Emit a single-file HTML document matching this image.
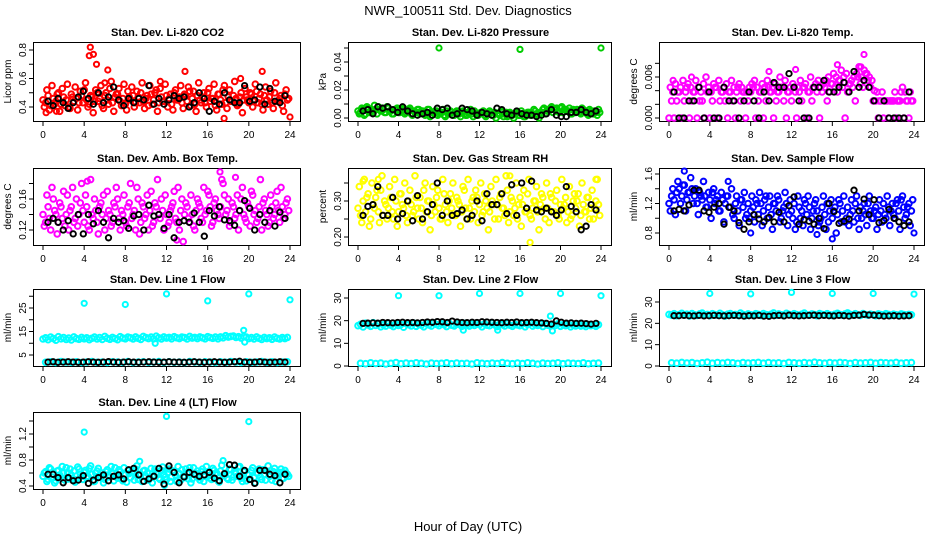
<!DOCTYPE html>
<html><head><meta charset="utf-8"><title>NWR_100511 Std. Dev. Diagnostics</title>
<style>
html,body{margin:0;padding:0;background:#fff;}
svg{display:block;font-family:"Liberation Sans",Arial,sans-serif;}
</style></head>
<body>
<svg id="chart" width="936" height="540" viewBox="0 0 936 540" xmlns="http://www.w3.org/2000/svg">
<rect x="0" y="0" width="936" height="540" fill="#fff"/>
<text x="468" y="15" text-anchor="middle" font-size="13">NWR_100511  Std. Dev. Diagnostics</text>
<text x="468" y="531" text-anchor="middle" font-size="13">Hour of Day (UTC)</text>
</svg>
<script>
// Shared x tick labels (hours)
var hourTicks = [0,4,8,12,16,20,24];

// ---- Li-820 CO2 ----
var co2A = [.45,.43,.48,.41,.46,.44,.50,.42,.47,.45,.40,.49,.44,.46,.43,.48,.52,.45,.42,.47,.44,.50,.46,.41,.48,.45,.53,.43,.47,.49,.44,.46,.42,.51,.45,.48,.43,.47,.50,.44,.46,.41,.49,.45,.52,.43,.47,.44,.48,.46,.42,.50,.45,.47,.43,.49,.44,.51,.46,.42,.48,.45,.47,.43,.50,.44,.46,.41,.49,.45,.52,.43,.47,.44,.48,.46,.42,.50,.45,.47,.43,.49,.44,.51,.46,.42,.48,.45,.47,.43,.50,.44,.46,.41,.49,.45];
var co2B = [.40,.52,.38,.55,.42,.49,.37,.53,.41,.56,.39,.47,.54,.38,.51,.43,.57,.40,.48,.36,.52,.44,.55,.39,.50,.42,.58,.37,.49,.53,.41,.56,.38,.47,.54,.40,.51,.43,.57,.39,.48,.55,.42,.50,.37,.53,.44,.56,.40,.49,.38,.52,.45,.55,.39,.48,.54,.41,.51,.37,.57,.43,.50,.40,.53,.46,.56,.38,.49,.42,.55,.39,.52,.44,.58,.41,.47,.36,.53,.45,.50,.40,.56,.43,.49,.38,.54,.42,.51,.39,.57,.44,.48,.37,.52,.46];
var co2Out = [[4.6,.82],[4.5,.76],[4.9,.77],[5.2,.70],[6.3,.66],[13.8,.65],[21.3,.65],[19.2,.60],[17.6,.32],[24,.33],[11.4,.58],[6.0,.57],[0.3,.36],[1.3,.37]];
var co2Blk = [.44,.41,.46,.43,.39,.43,.47,.51,.46,.42,.50,.43,.47,.54,.45,.41,.46,.43,.46,.45,.55,.42,.46,.42,.45,.48,.46,.47,.40,.43,.50,.46,.37,.44,.42,.50,.45,.43,.43,.55,.44,.45,.54,.42,.53,.44,.43,.48];
var co2Ticks = [.4,.5,.6,.7,.8];
var co2Labels = ["0.4","","0.6","","0.8"];

// ---- Li-820 Pressure ----
var prsA = [.005,.004,.006,.003,.007,.005,.004,.006,.008,.005,.006,.004,.007,.005,.003,.006,.004,.005,.007,.004,.006,.003,.005,.004,.006,.005,.003,.004,.006,.002,.004,.005,.003,.004,.002,.005,.003,.004,.002,.005,.003,.004,.003,.002,.004,.003,.005,.002,.003,.004,.002,.003,.005,.002,.004,.003,.002,.004,.003,.001,.004,.002,.003,.004,.002,.003,.001,.004,.002,.003,.005,.002,.004,.006,.003,.005,.007,.004,.006,.005,.007,.004,.006,.005,.003,.006,.004,.005,.003,.006,.004,.002,.005,.003,.004,.006];
var prsB = [.003,.007,.002,.008,.004,.006,.009,.003,.006,.007,.004,.008,.005,.003,.006,.007,.004,.006,.003,.005,.007,.002,.004,.006,.003,.005,.002,.006,.001,.004,.005,.002,.004,.006,.001,.003,.005,.002,.004,.003,.001,.005,.002,.004,.006,.001,.003,.002,.004,.005,.001,.003,.004,.002,.000,.003,.005,.001,.004,.002,.003,.000,.004,.002,.005,.001,.003,.004,.002,.006,.003,.000,.004,.007,.005,.006,.008,.006,.007,.004,.008,.006,.005,.007,.003,.005,.006,.004,.007,.005,.003,.006,.004,.005,.002,.004];
var prsOut = [[8,.050],[16,.049],[24,.050]];
var prsBlk = [.005,.006,.003,.008,.007,.008,.006,.004,.008,.005,.003,.002,.003,.004,.002,.007,.006,.007,.002,.003,.007,.006,.005,.002,.004,.003,.002,.007,.006,.003,.002,.005,.003,.002,.002,.001,.002,.003,.006,.002,.001,.001,.004,.004,.006,.004,.003,.005];
var prsTicks = [0,.01,.02,.03,.04,.05];
var prsLabels = ["0.00","","0.02","","0.04",""];

// ---- Li-820 Temp ----
var tmpA = [0,.0025,0,.0025,.0038,0,.0025,.0045,0,.0025,.0038,0,.0025,.0025,0,.0038,0,.0025,.0045,0,.0025,.0038,.0025,0,.0038,.0025,0,.0045,.0025,.0038,0,.0025,.0038,.0045,0,.0025,.0038,0,.0025,.0045,.0038,0,.0025,.0038,.0045,.0025,0,.0038,.0025,.0045,0,.0038,.0025,.0045,0,.0038,.0025,.0045,.0038,0,.0038,.0045,.0025,.0038,.005,.0045,.0038,.0055,.0045,0,.0038,.005,.0045,.0025,.006,.005,.0045,.0065,.0055,.0045,.0025,.0025,0,.0025,0,.0025,0,.0025,.0025,0,.0025,.0038,0,.0025,0,.0025];
var tmpB = [.0045,.0038,.005,.0038,.0045,.0055,.0038,.005,.0045,.0038,.0055,.0045,.0038,.005,.006,.0045,.0038,.005,.0045,.0055,.0038,.0045,.005,.0038,.0055,.0045,.0038,.005,.0045,.0038,.0038,.0045,.005,.0055,.0045,.0038,.005,.0045,.0055,.0038,.0045,.005,.0038,.006,.0045,.0055,.0038,.0045,.005,.0038,.0045,.0055,.0045,.005,.0038,.006,.0045,.005,.0055,.0045,.005,.0055,.006,.005,.0065,.006,.0055,.007,.006,.0065,.005,.0055,.006,.0065,.0075,.006,.007,.0065,.006,.0055,.004,.0038,.0025,.0038,.0025,.0025,.0025,.0025,.0038,.0025,.0025,.0045,.0038,.0025,.0038,.0025];
var tmpOut = [[19.1,.0093],[16.5,.0078],[12.4,.0071],[9.8,.0068],[0.4,.0055],[2.2,.006],[18.8,.0075]];
var tmpBlk = [.0038,0,0,.0025,.0025,.0045,0,.0038,0,0,.0045,.0025,.0025,0,.0025,.0038,.0025,0,.0038,.0025,.0052,.0045,.0045,.0065,.0045,.0025,0,0,.0045,.0045,.0055,.0038,.0038,.0045,.0052,.0038,.0068,.0045,.0055,.0045,.0025,0,.0025,0,0,0,0,.0038];
var tmpTicks = [0,.002,.004,.006,.008];
var tmpLabels = ["0.000","","","0.006",""];

// ---- Amb. Box Temp ----
var ambA = [.14,.13,.15,.12,.16,.14,.13,.15,.17,.14,.12,.15,.13,.16,.14,.18,.13,.15,.12,.14,.16,.13,.15,.14,.12,.17,.14,.13,.15,.16,.12,.14,.13,.15,.18,.14,.12,.16,.13,.15,.14,.12,.17,.13,.15,.14,.16,.12,.14,.13,.15,.17,.13,.12,.16,.14,.15,.13,.14,.12,.16,.15,.13,.14,.17,.15,.13,.16,.14,.15,.18,.14,.16,.13,.15,.14,.12,.16,.14,.13,.15,.17,.14,.13,.15,.12,.16,.14,.13,.15,.14,.17,.13,.15,.14,.16];
var ambB = [.125,.165,.135,.175,.145,.115,.155,.135,.125,.165,.145,.175,.135,.125,.155,.145,.165,.125,.185,.135,.145,.115,.155,.165,.135,.145,.125,.155,.175,.135,.145,.165,.125,.155,.135,.145,.175,.115,.155,.135,.165,.145,.125,.155,.185,.135,.145,.165,.125,.145,.155,.135,.175,.145,.105,.155,.135,.165,.125,.145,.155,.135,.175,.145,.165,.125,.155,.145,.135,.185,.165,.145,.125,.155,.135,.165,.145,.175,.135,.155,.125,.165,.145,.135,.185,.155,.145,.125,.165,.135,.155,.145,.175,.135,.155,.145];
var ambOut = [[17.2,.195],[18.7,.188],[4.3,.183],[13,.107]];
var ambBlk = [.13,.135,.13,.12,.132,.115,.14,.115,.14,.128,.145,.13,.11,.135,.13,.132,.122,.138,.14,.12,.152,.138,.14,.122,.14,.11,.13,.132,.13,.142,.13,.112,.145,.138,.15,.133,.132,.126,.145,.158,.148,.12,.14,.13,.145,.125,.143,.135];
var ambTicks = [.12,.14,.16,.18];
var ambLabels = ["0.12","","0.16",""];

// ---- Gas Stream RH ----
var rhA = [.28,.26,.30,.27,.32,.25,.29,.31,.27,.33,.26,.29,.28,.31,.25,.30,.27,.32,.28,.26,.30,.29,.27,.31,.25,.28,.33,.27,.30,.26,.29,.31,.28,.25,.32,.27,.30,.28,.26,.31,.29,.27,.33,.25,.28,.30,.27,.31,.29,.26,.32,.28,.27,.30,.25,.29,.31,.28,.26,.33,.27,.30,.28,.25,.31,.29,.27,.32,.26,.28,.30,.27,.29,.31,.25,.28,.32,.27,.30,.26,.29,.28,.31,.27,.25,.30,.28,.32,.26,.29,.27,.31,.28,.25,.30,.29];
var rhB = [.34,.24,.36,.31,.23,.35,.28,.33,.24,.37,.30,.25,.34,.27,.36,.23,.32,.29,.35,.24,.33,.26,.37,.28,.31,.24,.35,.30,.22,.34,.27,.33,.25,.36,.29,.24,.32,.35,.26,.30,.23,.34,.28,.36,.25,.31,.33,.24,.35,.27,.30,.22,.34,.29,.36,.25,.32,.28,.37,.24,.31,.26,.35,.29,.23,.33,.27,.36,.25,.30,.34,.22,.32,.28,.35,.24,.31,.27,.33,.25,.36,.29,.24,.34,.26,.32,.30,.23,.35,.27,.31,.25,.33,.28,.36,.26];
var rhOut = [[17,.185],[15,.37],[0.5,.355],[2,.36],[23.5,.36]];
var rhBlk = [.26,.285,.29,.34,.26,.26,.31,.25,.265,.30,.245,.315,.25,.27,.29,.35,.26,.30,.26,.265,.275,.25,.26,.30,.245,.32,.29,.29,.32,.265,.345,.26,.35,.28,.355,.275,.27,.28,.27,.26,.275,.34,.285,.27,.22,.23,.29,.275];
var rhTicks = [.20,.25,.30,.35];
var rhLabels = ["0.20","","0.30",""];

// ---- Sample Flow ----
var sfA = [1.2,1.3,1.25,1.35,1.4,1.3,1.45,1.25,1.35,1.4,1.3,1.2,1.35,1.25,1.3,1.15,1.25,1.35,1.2,1.3,1.1,1.25,1.2,1.3,1.15,1.05,1.2,1.1,1.25,1.15,1.0,1.2,1.1,1.15,1.25,1.05,1.2,1.1,1.3,1.15,1.05,1.2,1.1,1.25,1.0,1.15,1.2,1.05,1.1,1.2,0.95,1.15,1.1,1.25,1.05,1.15,1.0,1.2,1.1,0.95,1.15,1.05,1.2,1.1,1.0,1.15,1.05,1.2,1.1,0.95,1.15,1.05,1.1,1.2,1.0,1.15,1.1,1.05,1.2,1.1,1.0,1.15,1.05,1.1,1.2,1.0,1.15,1.1,1.05,1.2,1.1,1.25,1.15,1.05,1.2,1.1];
var sfB = [1.1,1.4,1.05,1.5,1.2,1.45,1.1,1.35,1.55,1.2,1.4,1.05,1.3,1.5,1.15,1.35,1.0,1.4,1.25,1.1,1.35,0.95,1.3,1.15,1.4,1.0,1.3,0.9,1.25,1.35,1.05,1.0,1.3,0.95,1.2,1.35,0.9,1.25,1.0,1.3,0.85,1.2,1.3,0.95,1.1,1.35,0.9,1.25,1.0,0.85,1.3,1.0,0.9,1.2,1.3,0.85,1.1,1.25,0.9,1.0,1.3,0.85,0.95,1.25,1.1,0.8,1.25,0.95,1.3,1.0,0.9,1.25,0.95,1.3,0.85,1.0,1.2,0.9,1.3,1.0,1.1,0.85,1.25,0.95,1.05,1.3,0.9,1.2,1.0,1.25,0.85,1.3,1.0,1.15,0.9,1.25];
var sfOut = [[1.5,1.64],[5.8,1.5],[16,0.72],[14.5,0.78],[24,0.8],[8,0.8]];
var sfBlk = [1.1,1.12,1.1,1.18,1.38,1.38,1.1,1.08,1.15,1.2,0.92,1.15,1.1,0.94,0.85,0.95,1.05,0.99,0.95,1.01,0.95,1.08,0.95,1.17,1.29,0.92,0.98,0.96,0.92,1.0,0.86,1.2,1.09,0.93,0.96,0.99,1.38,1.1,1.26,1.05,1.25,0.94,0.97,1.12,1.0,0.95,0.9,0.95];
var sfTicks = [.8,1.0,1.2,1.4,1.6];
var sfLabels = ["0.8","","1.2","","1.6"];

// ---- Line 1 Flow ----
var l1A = [11.8,12.3,11.5,12.6,12.0,11.3,12.8,11.9,12.4,11.6,12.2,11.4,12.7,12.0,11.7,12.5,11.9,12.3,11.5,12.1,12.6,11.8,12.4,11.6,12.9,12.1,11.7,12.5,12.0,11.5,12.8,12.2,11.9,12.6,12.3,11.8,12.7,12.1,11.6,12.9,12.4,12.0,12.6,11.9,13.0,12.3,11.8,12.7,12.2,12.5,11.9,12.8,12.3,12.0,12.6,12.4,11.8,12.9,12.2,12.5,12.0,12.7,12.3,11.9,12.8,12.4,12.1,12.6,11.9,12.7,12.3,13.2,12.6,12.9,13.1,12.5,12.8,12.2,12.9,12.6,12.0,12.4,11.8,12.7,12.1,11.6,12.5,12.0,12.3,11.7,12.6,12.1,11.8,12.4,12.0,12.5];
var l1B = [1.9,2.1,1.8,2.2,2.0,1.9,2.1,1.8,2.0,2.2,1.9,2.0,1.8,2.1,2.0,1.9,2.2,1.8,2.0,2.1,1.9,2.0,2.2,1.8,2.1,1.9,2.0,1.8,2.2,2.0,1.9,2.1,2.0,1.8,2.1,1.9,2.2,2.0,1.8,2.1,1.9,2.0,2.2,1.9,2.1,1.8,2.0,2.1];
var l1Out = [[4,27],[8,26.5],[12,31],[16,28],[20,31],[24,28.5],[19.5,15.5],[19.6,10.5],[10.9,10.0]];
var l1Blk = [2.0,2.1,1.9,2.0,2.1,2.0,1.9,2.0,2.1,2.0,1.9,2.0,2.2,2.0,1.9,2.0,2.1,2.0,1.9,2.0,2.1,2.0,1.9,2.0,2.1,2.0,2.0,1.9,2.0,2.1,2.0,1.9,2.0,2.1,2.0,1.9,2.0,2.1,2.3,2.0,1.9,2.0,2.1,2.0,1.9,2.0,2.1,2.0];
var l1Ticks = [5,10,15,20,25,30];
var l1Labels = ["5","","15","","25",""];

// ---- Line 2 Flow ----
var l2A = [17.8,18.4,17.2,18.9,18.1,17.5,19.1,17.9,18.5,17.3,18.2,17.6,18.8,18.0,17.4,18.6,17.9,18.3,17.1,18.7,18.2,17.7,18.9,17.5,18.4,18.0,17.3,18.8,18.1,17.6,19.0,18.3,17.8,18.6,18.2,17.4,18.9,18.0,17.7,18.5,18.3,17.5,18.8,18.1,17.6,18.4,17.9,18.7,18.2,17.3,18.6,18.0,17.8,18.9,18.1,17.4,18.5,18.2,17.7,18.8,18.0,17.5,18.4,18.1,17.8,18.6,17.3,18.3,18.9,17.6,18.2,17.9,18.5,17.4,18.7,18.0,17.6,18.3,17.9,18.6,17.5,18.2,17.8,18.4,17.3,18.1,17.7,18.5,17.6,18.0,17.4,18.3,17.8,18.1,17.5,18.2];
var l2B = [1.2,1.0,1.4,1.1,1.3,0.9,1.2,1.5,1.0,1.3,1.1,1.4,1.2,0.9,1.3,1.1,1.2,1.4,1.0,1.3,1.1,1.2,0.9,1.4,1.2,1.0,1.3,1.1,1.5,1.2,1.0,1.3,1.1,1.4,1.2,0.9,1.3,1.1,1.2,1.4,1.0,1.3,1.2,1.1,1.4,1.0,1.2,1.3];
var l2Out = [[4,31],[8,31],[12,32],[16,32],[20,32],[24,31],[19,22],[19.2,15.5],[10.4,15.8],[13.8,15.8]];
var l2Blk = [18.8,18.9,19.0,18.9,19.2,19.1,19.0,19.2,19.3,19.1,19.2,19.0,19.2,19.4,19.3,19.6,19.5,19.2,19.8,19.4,19.2,19.1,19.3,19.2,19.5,19.4,19.3,19.2,19.1,19.3,19.2,19.4,19.1,19.2,19.3,19.1,19.0,18.8,18.5,19.9,19.3,18.9,19.0,18.8,18.9,18.7,18.5,18.8];
var l2Ticks = [0,10,20,30];
var l2Labels = ["0","10","20","30"];

// ---- Line 3 Flow ----
var l3A = [24.2,23.8,24.5,23.6,24.1,24.7,23.9,24.3,23.5,24.6,24.0,23.7,24.4,24.8,23.9,24.2,23.6,24.5,24.1,23.8,24.7,24.0,23.5,24.3,24.6,23.9,24.2,23.7,24.8,24.1,23.6,24.4,24.0,23.8,24.5,24.2,23.7,24.6,24.1,23.9,24.3,24.9,23.8,24.4,24.0,23.6,24.7,24.2,23.9,24.5,24.1,23.7,24.3,24.8,24.0,23.8,24.4,24.1,23.6,24.6,24.2,23.9,24.5,24.0,23.7,24.3,24.7,24.1,23.8,24.4,24.9,24.2,23.9,24.5,24.0,23.7,24.6,24.1,23.8,24.3,24.0,23.6,24.4,24.1,23.9,24.5,24.2,23.7,24.3,24.0,23.8,24.4,24.1,23.9,24.2,24.0];
var l3B = [1.5,1.3,1.7,1.4,1.6,1.2,1.5,1.8,1.3,1.6,1.4,1.7,1.5,1.2,1.6,1.4,1.5,1.7,1.3,1.6,1.4,1.5,1.2,1.7,1.5,1.3,1.6,1.4,1.8,1.5,1.3,1.6,1.4,1.7,1.5,1.2,1.6,1.4,1.5,1.7,1.3,1.6,1.5,1.4,1.7,1.3,1.5,1.6];
var l3Out = [[4,34],[8,33.8],[12,34.5],[16,34],[20,34],[24,33.7]];
var l3Blk = [23.6,23.6,23.7,23.6,23.5,23.7,23.5,23.6,23.7,23.6,23.5,23.6,23.7,23.6,23.4,23.6,23.5,23.7,23.4,23.3,23.6,23.7,23.5,23.8,23.6,23.5,23.6,23.7,23.8,23.6,23.7,23.6,23.5,23.7,23.6,23.4,23.7,23.8,24.2,23.9,23.8,23.6,23.4,23.5,23.6,23.4,23.5,23.6];
var l3Ticks = [0,10,20,30];
var l3Labels = ["0","10","20","30"];

// ---- Line 4 (LT) Flow ----
var l4A = [.55,.62,.50,.66,.58,.48,.64,.53,.60,.68,.51,.57,.63,.49,.66,.55,.61,.52,.67,.58,.47,.63,.56,.60,.50,.65,.54,.59,.68,.52,.62,.48,.57,.64,.53,.60,.66,.50,.58,.63,.55,.49,.67,.56,.61,.52,.64,.58,.50,.66,.54,.62,.47,.59,.65,.53,.60,.68,.51,.57,.63,.49,.66,.55,.61,.52,.67,.58,.48,.63,.56,.60,.50,.65,.54,.59,.69,.52,.62,.48,.57,.64,.53,.60,.66,.50,.58,.63,.55,.49,.67,.56,.61,.52,.64,.58];
var l4B = [.60,.47,.68,.54,.45,.63,.57,.70,.49,.61,.66,.52,.46,.69,.58,.50,.64,.55,.71,.47,.60,.67,.53,.45,.62,.57,.70,.48,.55,.65,.51,.68,.46,.59,.62,.49,.71,.56,.47,.64,.60,.53,.45,.66,.58,.50,.69,.54,.61,.47,.63,.57,.70,.49,.55,.66,.51,.45,.68,.59,.53,.62,.47,.70,.56,.50,.64,.60,.46,.72,.57,.52,.66,.49,.61,.55,.70,.47,.63,.58,.51,.68,.45,.60,.54,.65,.49,.71,.56,.62,.47,.59,.66,.52,.60,.55];
var l4Out = [[4,1.23],[12,1.47],[20,1.39],[9.4,0.78],[17.5,0.79],[11.8,0.41]];
var l4Blk = [.58,.58,.53,.45,.53,.48,.49,.56,.44,.49,.53,.57,.48,.55,.57,.51,.65,.67,.57,.47,.51,.55,.67,.43,.71,.61,.45,.54,.61,.58,.55,.57,.61,.52,.48,.59,.73,.72,.55,.64,.50,.44,.64,.64,.58,.56,.45,.58];
var l4Ticks = [.4,.6,.8,1.0,1.2,1.4];
var l4Labels = ["0.4","","0.8","","1.2",""];

// ---------- drawing ----------
var NS = "http://www.w3.org/2000/svg";
var svg = document.getElementById("chart");
function mk(tag, attrs, parent){
  var e = document.createElementNS(NS, tag);
  for (var k in attrs) e.setAttribute(k, attrs[k]);
  (parent || svg).appendChild(e);
  return e;
}
var colLeft = [34, 349, 660];
var colW = [267, 263, 265];
var rowTop = [42, 168, 289, 412];
var rowBot = [121, 245, 366, 489];

var panels = [
  {name:"co2", title:"Stan. Dev. Li-820 CO2", ylab:"Licor ppm", col:"#ff0000", r:0, c:0, cal:[.4,107,.8,50], ticks:co2Ticks, labels:co2Labels, A:co2A, B:co2B, out:co2Out, blk:co2Blk},
  {name:"pressure", title:"Stan. Dev. Li-820 Pressure", ylab:"kPa", col:"#00cc00", r:0, c:1, cal:[0,118,.04,62], ticks:prsTicks, labels:prsLabels, A:prsA, B:prsB, out:prsOut, blk:prsBlk},
  {name:"li820-temp", title:"Stan. Dev. Li-820 Temp.", ylab:"degrees C", col:"#ff00ff", r:0, c:2, cal:[0,118,.006,77], ticks:tmpTicks, labels:tmpLabels, A:tmpA, B:tmpB, out:tmpOut, blk:tmpBlk},
  {name:"amb-box-temp", title:"Stan. Dev. Amb. Box Temp.", ylab:"degrees C", col:"#ff00ff", r:1, c:0, cal:[.12,230,.16,199], ticks:ambTicks, labels:ambLabels, A:ambA, B:ambB, out:ambOut, blk:ambBlk},
  {name:"gas-stream-rh", title:"Stan. Dev. Gas Stream RH", ylab:"percent", col:"#ffff00", r:1, c:1, cal:[.20,237,.30,201], ticks:rhTicks, labels:rhLabels, A:rhA, B:rhB, out:rhOut, blk:rhBlk},
  {name:"sample-flow", title:"Stan. Dev. Sample Flow", ylab:"ml/min", col:"#0000ff", r:1, c:2, cal:[.8,233,1.6,174], ticks:sfTicks, labels:sfLabels, A:sfA, B:sfB, out:sfOut, blk:sfBlk},
  {name:"line1-flow", title:"Stan. Dev. Line 1 Flow", ylab:"ml/min", col:"#00ffff", r:2, c:0, cal:[5,355,25,308], ticks:l1Ticks, labels:l1Labels, A:l1A, B:l1B, out:l1Out, blk:l1Blk},
  {name:"line2-flow", title:"Stan. Dev. Line 2 Flow", ylab:"ml/min", col:"#00ffff", r:2, c:1, cal:[0,366,30,298], ticks:l2Ticks, labels:l2Labels, A:l2A, B:l2B, out:l2Out, blk:l2Blk},
  {name:"line3-flow", title:"Stan. Dev. Line 3 Flow", ylab:"ml/min", col:"#00ffff", r:2, c:2, cal:[0,366,30,302], ticks:l3Ticks, labels:l3Labels, A:l3A, B:l3B, out:l3Out, blk:l3Blk},
  {name:"line4-flow", title:"Stan. Dev. Line 4 (LT) Flow", ylab:"ml/min", col:"#00ffff", r:3, c:0, cal:[.4,486,1.2,434], ticks:l4Ticks, labels:l4Labels, A:l4A, B:l4B, out:l4Out, blk:l4Blk}
];

panels.forEach(function(p){
  var L = colLeft[p.c], W = colW[p.c], T = rowTop[p.r], Bt = rowBot[p.r];
  var g = mk("g", {});
  
  
  var x0 = L + 9, x24 = L + W - 11;
  function xs(h){ return x0 + (x24 - x0) * h / 24; }
  var cal = p.cal;
  function ys(v){ return cal[1] + (v - cal[0]) * (cal[3] - cal[1]) / (cal[2] - cal[0]); }
  var t = mk("text", {x: L + W/2, y: T - 6, "text-anchor":"middle", "font-size":"11", "font-weight":"bold"}, g);
  t.textContent = p.title;
  
  
  var yl = mk("text", {x:0, y:0, "text-anchor":"middle", "font-size":"10", transform:"translate(" + (L - 23) + "," + ((T + Bt)/2) + ") rotate(-90)"}, g);
  yl.textContent = p.ylab;
  
  
  var xa = mk("g", {stroke:"#000", "stroke-width":"1"}, g);
  
  
  mk("line", {x1: xs(0), x2: xs(24), y1: Bt + 0.5, y2: Bt + 0.5}, xa);
  hourTicks.forEach(function(h){
    mk("line", {x1: xs(h), x2: xs(h), y1: Bt, y2: Bt + 5}, xa);
    var tl = mk("text", {x: xs(h), y: Bt + 17, "text-anchor":"middle", "font-size":"10", stroke:"none", fill:"#000"}, g);
    tl.textContent = h;
    
    
  });
  var ya = mk("g", {stroke:"#000", "stroke-width":"1"}, g);
  
  
  var yTop = ys(p.ticks[p.ticks.length-1]), yBot = ys(p.ticks[0]);
  mk("line", {x1: L - 0.5, x2: L - 0.5, y1: yTop, y2: yBot}, ya);
  p.ticks.forEach(function(v, i){
    var y = ys(v);
    mk("line", {x1: L - 5, x2: L, y1: y, y2: y}, ya);
    if (p.labels[i]) {
      var tl = mk("text", {x:0, y:0, "text-anchor":"middle", "font-size":"10", transform:"translate(" + (L - 8) + "," + y + ") rotate(-90)"}, g);
      tl.textContent = p.labels[i];
      
      
    }
  });
  var box = mk("rect", {x: L - 0.5, y: T + 0.5, width: W, height: Bt - T, fill:"none", stroke:"#000", "stroke-width":"1"}, g);
  
  
  var cg = mk("g", {fill:"none", stroke:p.col, "stroke-width":"2"}, g);
  
  
  [p.A, p.B].forEach(function(arr, k){
    arr.forEach(function(v, i){
      var h = (i + (k ? 0.5 : 0)) * 24 / arr.length;
      var c = mk("circle", {cx: xs(h).toFixed(1), cy: ys(v).toFixed(1), r: 2.8}, cg);
      
      
    });
  });
  p.out.forEach(function(o){
    var c = mk("circle", {cx: xs(o[0]).toFixed(1), cy: ys(o[1]).toFixed(1), r: 2.6}, cg);
    
    
  });
  var bg = mk("g", {fill:"none", stroke:"#000", "stroke-width":"1.9"}, g);
  
  
  p.blk.forEach(function(v, i){
    var h = (i + 1) * 24 / (p.blk.length + 1);
    var c = mk("circle", {cx: xs(h).toFixed(1), cy: ys(v).toFixed(1), r: 2.7}, bg);
    
    
  });
});
</script>
</body></html>
